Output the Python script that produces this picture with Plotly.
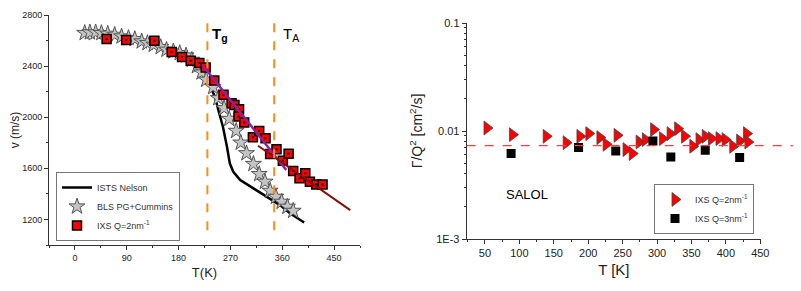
import plotly.graph_objects as go

# ---------------- Left panel data: sound velocity v(T) ----------------
ixs_T = [55, 89, 138, 168, 186, 201, 216, 227, 242, 258, 272, 277, 285, 284, 294,
         309, 320, 331, 339, 350, 361, 371, 379, 390, 400, 408, 419, 430]
ixs_v = [2612, 2604, 2598, 2510, 2471, 2442, 2424, 2389, 2287, 2175, 2110, 2096, 2063, 2005, 1958,
         1843, 1893, 1835, 1712, 1749, 1660, 1714, 1579, 1522, 1561, 1495, 1474, 1474]

bls_T = [17, 26, 36, 46, 57, 69, 81, 93, 104, 116, 126, 137, 149, 159, 171, 182, 193, 203,
         212, 220, 228, 240, 249, 259, 268, 280, 288, 298, 310, 320, 330, 339, 349, 359, 369, 379]
bls_v = [2659, 2664, 2664, 2659, 2653, 2645, 2632, 2620, 2612, 2593, 2580, 2567, 2549, 2528,
         2515, 2502, 2483, 2449, 2400, 2350, 2293, 2235, 2149, 2071, 1987, 1893, 1801, 1718,
         1634, 1555, 1495, 1424, 1377, 1338, 1299, 1267]

ists_T = [236, 243, 249, 257, 264, 269, 275, 287, 310, 333, 356, 374, 398]
ists_v = [2227, 2162, 2057, 1926, 1769, 1639, 1573, 1508, 1443, 1377, 1312, 1247, 1176]

fit1_T = [221, 367]
fit1_v = [2410, 1587]
fit2_T = [318, 478]
fit2_v = [1777, 1273]

Tg = 230
TA = 346

# ---------------- Right panel data: Gamma/Q^2 ----------------
q2_T = [53, 90, 139, 168, 188, 201, 217, 226, 242, 255, 264, 274, 283, 295, 308,
        319, 330, 340, 352, 361, 370, 379, 390, 399, 410, 420, 430, 432]
q2_G = [0.01066, 0.00925, 0.00893, 0.0078, 0.00893, 0.00946, 0.00869, 0.00753, 0.00912,
        0.00673, 0.00618, 0.00791, 0.00832, 0.0103, 0.0085, 0.00946, 0.0105, 0.00893,
        0.00722, 0.00832, 0.00893, 0.0085, 0.0085, 0.00832, 0.00722, 0.00808, 0.00946, 0.00791]

q3_T = [88, 186, 240, 294, 320, 370, 420]
q3_G = [0.00618, 0.00702, 0.00653, 0.00808, 0.00574, 0.00663, 0.00567]

mean_G = 0.00732

FONT = "Arial, Liberation Sans, sans-serif"
AX = "#333333"

# page body has an 8px default margin -> figure is offset by 8px
W, H, OFF = 793, 283, 8


def PX(px):
    return (px - OFF) / W


def PY(py):
    return 1 - (py - OFF) / H


fig = go.Figure()

# Left panel traces
fig.add_trace(go.Scatter(x=ists_T, y=ists_v, mode="lines", name="ISTS Nelson",
                         line=dict(color="black", width=2.5), legend="legend"))
fig.add_trace(go.Scatter(x=bls_T, y=bls_v, mode="markers", name="BLS PG+Cummins",
                         marker=dict(symbol="star", size=12, color="#c4c4c4",
                                     line=dict(color="#555555", width=1)), legend="legend"))
fig.add_trace(go.Scatter(x=ixs_T, y=ixs_v, mode="markers", name="IXS Q=2nm<sup>-1</sup>",
                         marker=dict(symbol="square", size=9, color="#ff0000",
                                     line=dict(color="black", width=1.5)), legend="legend"))
fig.add_trace(go.Scatter(x=ixs_T, y=ixs_v, mode="markers", showlegend=False,
                         marker=dict(symbol="square", size=2, color="black")))
fig.add_trace(go.Scatter(x=fit1_T, y=fit1_v, mode="lines", showlegend=False,
                         line=dict(color="#93209a", width=2.5)))
fig.add_trace(go.Scatter(x=fit2_T, y=fit2_v, mode="lines", showlegend=False,
                         line=dict(color="#8b0d0d", width=2)))

# Right panel traces
fig.add_trace(go.Scatter(x=q2_T, y=q2_G, mode="markers", name="IXS Q=2nm<sup>-1</sup>",
                         xaxis="x2", yaxis="y2", legend="legend2",
                         marker=dict(symbol="triangle-right", size=12, color="#ff0000",
                                     line=dict(color="#444444", width=0.8))))
fig.add_trace(go.Scatter(x=q3_T, y=q3_G, mode="markers", name="IXS Q=3nm<sup>-1</sup>",
                         xaxis="x2", yaxis="y2", legend="legend2",
                         marker=dict(symbol="square", size=9, color="black")))

# Vertical dashed lines Tg, TA
for t in (Tg, TA):
    fig.add_shape(type="line", xref="x", yref="y", x0=t, x1=t, y0=2735, y1=1050,
                  line=dict(color="#ff8c1a", width=2, dash="dash"))

# Horizontal dashed mean line on right panel (extends to figure edge)
fig.add_shape(type="line", xref="paper", yref="y2", x0=PX(466.7), x1=1.0, y0=mean_G, y1=mean_G,
              line=dict(color="#ff4040", width=1.2, dash="dash"))

fig.add_annotation(xref="x", yref="y", x=252, y=2650, showarrow=False,
                   text="<b>T</b><sub><b>g</b></sub>", font=dict(family=FONT, size=15, color="black"))
fig.add_annotation(xref="x", yref="y", x=376, y=2650, showarrow=False,
                   text="T<sub>A</sub>", font=dict(family=FONT, size=15, color="black"))
fig.add_annotation(xref="paper", yref="paper", x=PX(526.7), y=PY(194), showarrow=False,
                   text="SALOL", font=dict(family=FONT, size=13, color="black"))

axis_common = dict(showline=True, linecolor=AX, linewidth=1, ticks="outside", ticklen=4,
                   tickcolor=AX, showgrid=False, zeroline=False, mirror=False, automargin=False,
                   tickfont=dict(family=FONT, size=9, color="#222222"))
right_font = dict(family=FONT, size=11, color="#222222")

fig.update_layout(
    width=W, height=H, margin=dict(l=0, r=0, t=0, b=0),
    paper_bgcolor="white", plot_bgcolor="white",
    font=dict(family=FONT, color="#222222"),
    xaxis=dict(domain=[PX(49), PX(360)], range=[-45, 495], tickvals=[0, 90, 180, 270, 360, 450],
               minor=dict(dtick=45, tick0=0, ticklen=2, ticks="outside", tickcolor=AX),
               title=dict(text="T(K)", font=dict(family=FONT, size=13), standoff=6),
               anchor="y", **axis_common),
    yaxis=dict(domain=[PY(245), PY(15)], range=[1000, 2800],
               tickvals=[1200, 1600, 2000, 2400, 2800],
               minor=dict(dtick=200, tick0=1000, ticklen=2, ticks="outside", tickcolor=AX),
               title=dict(text="v (m/s)", font=dict(family=FONT, size=12), standoff=6),
               anchor="x", **axis_common),
    xaxis2=dict(domain=[PX(466.7), PX(761)], range=[23.5, 451],
                tickvals=[50, 100, 150, 200, 250, 300, 350, 400, 450],
                minor=dict(dtick=25, tick0=0, ticklen=2, ticks="outside", tickcolor=AX),
                title=dict(text="T [K]", font=dict(family=FONT, size=15), standoff=6),
                anchor="y2", **{**axis_common, "tickfont": right_font}),
    yaxis2=dict(domain=[PY(239), PY(23)], type="log", range=[-3, -1],
                tickvals=[0.001, 0.01, 0.1], ticktext=["1E-3", "0.01", "0.1"],
                minor=dict(tickvals=[0.002, 0.003, 0.004, 0.005, 0.006, 0.007, 0.008, 0.009,
                                     0.02, 0.03, 0.04, 0.05, 0.06, 0.07, 0.08, 0.09],
                           ticklen=2, ticks="outside", tickcolor=AX),
                title=dict(text="Γ/Q<sup>2</sup> [cm<sup>2</sup>/s]", font=dict(family=FONT, size=14), standoff=10),
                anchor="x2", **{**axis_common, "tickfont": right_font}),
    legend=dict(x=PX(56), y=PY(172), xanchor="left", yanchor="top",
                bordercolor="#777777", borderwidth=1, bgcolor="white",
                font=dict(family=FONT, size=9, color="#333333"), itemwidth=30, tracegroupgap=0),
    legend2=dict(x=PX(654), y=PY(184), xanchor="left", yanchor="top",
                 bordercolor="#777777", borderwidth=1, bgcolor="white",
                 font=dict(family=FONT, size=9, color="#333333"), itemwidth=30, tracegroupgap=0),
    showlegend=True,
)

fig.write_html("out.html")
